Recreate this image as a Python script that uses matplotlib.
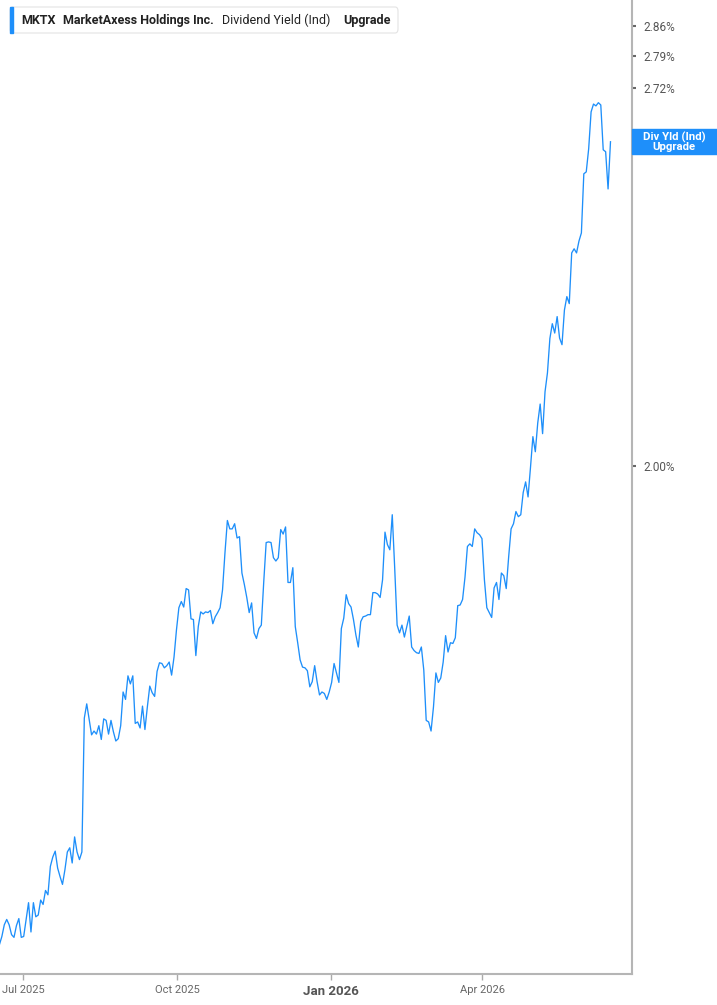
import matplotlib
matplotlib.use("Agg")
import matplotlib.pyplot as plt
import matplotlib.dates as mdates
from matplotlib.patches import Rectangle, FancyBboxPatch
from matplotlib.ticker import FixedLocator, NullLocator
import pandas as pd

plt.rcParams['font.family'] = ['Roboto', 'DejaVu Sans']

# MKTX dividend yield (indicated), %, one point per trading day
div_yield = [
    1.355, 1.364, 1.377, 1.383, 1.377, 1.366, 1.363, 1.376, 1.384, 1.363,
    1.364, 1.383, 1.402, 1.369, 1.402, 1.386, 1.388, 1.405, 1.400, 1.416,
    1.411, 1.444, 1.455, 1.462, 1.442, 1.432, 1.423, 1.440, 1.461, 1.466,
    1.448, 1.479, 1.461, 1.452, 1.461,
    1.629, 1.648, 1.627, 1.607, 1.612, 1.608, 1.619, 1.601, 1.628, 1.626,
    1.608, 1.626, 1.611, 1.599, 1.602, 1.619, 1.664, 1.654, 1.686, 1.675,
    1.686, 1.622, 1.624, 1.616, 1.645, 1.614, 1.644, 1.672, 1.663, 1.658,
    1.692, 1.704, 1.703, 1.697, 1.700, 1.705, 1.687, 1.712, 1.750, 1.782,
    1.791, 1.783, 1.810, 1.808, 1.766, 1.765, 1.714, 1.755, 1.776, 1.773,
    1.776, 1.775, 1.778, 1.759, 1.769, 1.775, 1.782, 1.808, 1.863, 1.913,
    1.900, 1.900, 1.908, 1.886, 1.888, 1.833, 1.816, 1.797, 1.775, 1.789,
    1.746, 1.738, 1.752, 1.757, 1.820, 1.879, 1.880, 1.879, 1.856, 1.851,
    1.856, 1.899, 1.892, 1.903, 1.819, 1.819, 1.841, 1.755, 1.732, 1.708,
    1.698, 1.697, 1.693, 1.671, 1.678, 1.700, 1.678, 1.660, 1.664, 1.662,
    1.654, 1.664, 1.677, 1.703, 1.690, 1.677, 1.752, 1.767, 1.801, 1.788,
    1.783, 1.765, 1.743, 1.726, 1.762, 1.769, 1.770, 1.772, 1.772, 1.804,
    1.804, 1.802, 1.797, 1.823, 1.895, 1.876, 1.868, 1.922, 1.841, 1.757,
    1.746, 1.757, 1.740, 1.755, 1.770, 1.726, 1.721, 1.718, 1.717, 1.726,
    1.694, 1.626, 1.624, 1.612, 1.644, 1.690, 1.677, 1.683, 1.705, 1.742,
    1.719, 1.732, 1.731, 1.739, 1.785, 1.786, 1.794, 1.827, 1.873, 1.877,
    1.873, 1.900, 1.894, 1.891, 1.885, 1.823, 1.782, 1.775, 1.768, 1.811,
    1.819, 1.794, 1.833, 1.829, 1.810, 1.857, 1.900, 1.908, 1.927, 1.919,
    1.922, 1.957, 1.974, 1.950, 1.997, 2.048, 2.023, 2.071, 2.103, 2.053,
    2.124, 2.157, 2.218, 2.245, 2.228, 2.258, 2.219, 2.207, 2.270, 2.295,
    2.282, 2.378, 2.386, 2.378, 2.401, 2.417, 2.536, 2.540, 2.588, 2.667,
    2.684, 2.680, 2.687, 2.682, 2.586, 2.582, 2.505, 2.603,
]
first_day = '2025-06-17'
last_day = '2026-06-16 14:00'
dates = pd.date_range(first_day, last_day, periods=len(div_yield))

y_ticks = [2.00, 2.72, 2.79, 2.86]
x_ticks = ['2025-07-01', '2025-10-01', '2026-01-01', '2026-04-01']
x_labels = ['Jul 2025', 'Oct 2025', 'Jan 2026', 'Apr 2026']

blue = '#1e8ffa'
W, H = 717, 1005
fig = plt.figure(figsize=(W / 100, H / 100), dpi=100)
ax = fig.add_axes([0, 31 / H, 632 / W, 974 / H])

ax.plot(dates, div_yield, color=blue, lw=0.95)

ax.set_yscale('log')
ax.set_ylim(1.323, 2.921)
ax.set_xlim(pd.Timestamp('2025-06-17 08:00'), pd.Timestamp('2026-06-29 10:00'))

ax.yaxis.tick_right()
ax.yaxis.set_major_locator(FixedLocator(y_ticks))
ax.yaxis.set_minor_locator(NullLocator())
ax.set_yticklabels([f'{v:.2f}%' for v in y_ticks])
ax.tick_params(axis='y', which='both', direction='out', length=3, width=1.5,
               color='#666666', labelcolor='#555555', labelsize=8.5, pad=5)

ax.set_xticks([pd.Timestamp(d) for d in x_ticks])
ax.set_xticklabels(x_labels)
ax.tick_params(axis='x', direction='out', length=4, width=1, color='#aaaaaa',
               labelcolor='#666666', labelsize=8, pad=4)
for lab in ax.get_xticklabels():
    if lab.get_text().startswith('Jan'):
        lab.set_fontweight('bold')
        lab.set_fontsize(9.5)
        lab.set_color('#555555')

for s in ['left', 'top']:
    ax.spines[s].set_visible(False)
for s in ['right', 'bottom']:
    ax.spines[s].set_color('#b5b5b5')
    ax.spines[s].set_linewidth(1.5)

# header box
fig.patches.append(FancyBboxPatch((10 / W, (H - 33) / H), 388 / W, 26 / H,
                                  boxstyle='round,pad=0,rounding_size=0.004',
                                  transform=fig.transFigure, facecolor='white',
                                  edgecolor='#e3e3e3', lw=0.8))
fig.patches.append(Rectangle((10 / W, (H - 33) / H), 3 / W, 26 / H,
                             transform=fig.transFigure, color=blue))
ty = 1 - 20.5 / H
fig.text(21 / W, ty, 'MKTX', fontsize=9, fontweight='bold', color='#222222', va='center')
fig.text(63 / W, ty, 'MarketAxess Holdings Inc.', fontsize=9, fontweight='bold',
         color='#222222', va='center')
fig.text(222 / W, ty, 'Dividend Yield (Ind)', fontsize=9, color='#222222', va='center')
fig.text(343 / W, ty, 'Upgrade', fontsize=9, fontweight='bold', color='#222222', va='center')

# last value tag on the right axis
fig.canvas.draw()
_, y_disp = ax.transData.transform((mdates.date2num(dates[-1]), div_yield[-1]))
yc = y_disp / H
fig.patches.append(Rectangle((632 / W, yc - 12.5 / H), 85 / W, 25 / H,
                             transform=fig.transFigure, color=blue))
fig.text(674 / W, yc, 'Div Yld (Ind)\nUpgrade', fontsize=8.2, fontweight='bold',
         color='white', ha='center', va='center', linespacing=0.95)

fig.savefig('out.png', dpi=100)
